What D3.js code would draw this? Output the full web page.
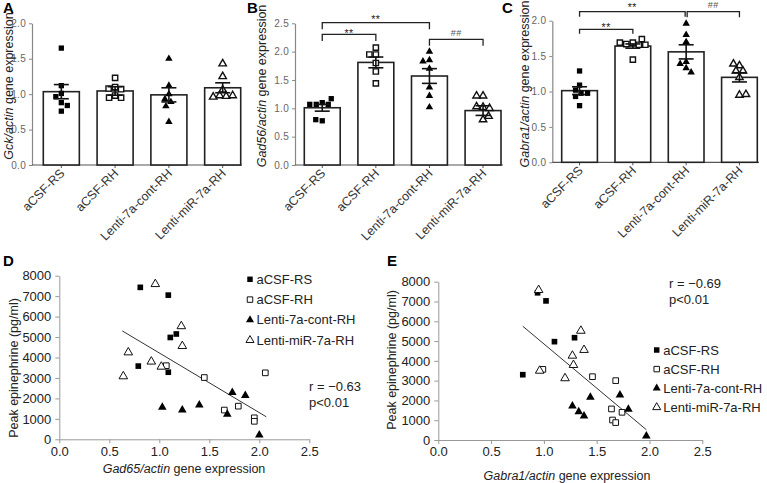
<!DOCTYPE html>
<html><head><meta charset="utf-8">
<script src="https://cdn.jsdelivr.net/npm/d3@7"></script>
<style>body{margin:0;background:#fff} svg{display:block;font-family:Arial,"Liberation Sans",sans-serif}</style>
</head><body><svg id="c" width="767" height="483"></svg>
<script>
// ---------- DATA ----------
const categories = ["aCSF-RS", "aCSF-RH", "Lenti-7a-cont-RH", "Lenti-miR-7a-RH"];
const barTicks2 = [0, 0.5, 1.0, 1.5, 2.0];
const barTicks25 = [0, 0.5, 1.0, 1.5, 2.0, 2.5];
const scatterXTicks = [0, 0.5, 1.0, 1.5, 2.0, 2.5];
const scatterYTicks = [0, 1000, 2000, 3000, 4000, 5000, 6000, 7000, 8000];

// Panel A: Gck/actin
const gckMeans = [1.035, 1.045, 0.99, 1.09];
const gckSem = [0.10, 0.06, 0.10, 0.07];
const gckRS = [1.65, 1.12, 1.01, 0.965, 0.88, 0.84, 0.76];
const gckRH = [1.23, 1.10, 1.08, 1.07, 0.98, 0.95, 0.95];
const gckCont = [1.50, 1.12, 1.00, 0.93, 0.89, 0.83, 0.61];
const gckMiR = [1.43, 1.25, 1.06, 0.98, 0.97, 0.96, 0.98];

// Panel B: Gad56/actin
const gadMeans = [1.01, 1.81, 1.57, 0.96];
const gadSem = [0.06, 0.095, 0.13, 0.085];
const gadRS = [1.10, 1.07, 1.07, 1.07, 1.17, 0.78, 0.80];
const gadRH = [2.07, 1.95, 1.95, 1.80, 1.65, 1.44];
const gadCont = [2.00, 1.85, 1.83, 1.70, 1.37, 1.22, 1.02];
const gadMiR = [1.22, 1.22, 1.02, 1.00, 1.03, 0.80, 0.86];

// Panel C: Gabra1/actin
const gabMeans = [1.012, 1.642, 1.56, 1.20];
const gabSem = [0.055, 0.03, 0.10, 0.065];
const gabRS = [1.29, 1.09, 1.02, 0.975, 0.93, 0.975, 0.80];
const gabRH = [1.69, 1.67, 1.66, 1.66, 1.69, 1.74, 1.45];
const gabCont = [1.96, 1.80, 1.70, 1.42, 1.39, 1.33, 1.27];
const gabMiR = [1.365, 1.39, 1.29, 1.29, 1.20, 0.95, 0.96];

// Panel D: Gad65 vs epinephrine
const dRSx = [0.81, 1.09, 1.11, 1.17, 0.79, 1.09];
const dRSy = [7430, 7050, 4980, 5150, 3580, 3280];
const dRHx = [1.07, 1.45, 2.06, 1.65, 1.79, 1.95, 1.95];
const dRHy = [3600, 3020, 3250, 1430, 1620, 1050, 880];
const dContx = [1.73, 1.86, 1.03, 1.23, 1.40, 1.68, 2.00];
const dConty = [2290, 2140, 1570, 1430, 1680, 1230, 210];
const dMiRx = [0.96, 1.22, 1.23, 0.69, 0.92, 1.02, 0.64];
const dMiRy = [7590, 5530, 4560, 4250, 3800, 3550, 3080];
const dLineX = [0.63, 2.07];
const dLineY = [5300, 1100];
const dStats = ["r = \u22120.63", "p<0.01"];

// Panel E: Gabra1 vs epinephrine
const eRSx = [0.94, 1.02, 1.10, 1.29, 0.80];
const eRSy = [7440, 7030, 4970, 5170, 3300];
const eRHx = [0.99, 1.46, 1.68, 1.64, 1.65, 1.68, 1.74];
const eRHy = [3570, 3200, 3000, 1570, 1010, 880, 1400];
const eContx = [1.72, 1.44, 1.27, 1.33, 1.38, 1.80, 1.97];
const eConty = [2270, 2160, 1720, 1430, 1210, 1550, 200];
const eMiRx = [0.95, 1.35, 1.38, 1.27, 1.28, 0.96, 1.20];
const eMiRy = [7580, 5520, 4550, 4260, 3790, 3500, 3120];
const eLineX = [0.80, 1.97];
const eLineY = [5750, 520];
const eStats = ["r = \u22120.69", "p<0.01"];

// ---------- DRAWING ----------
const svg = d3.select("#c");
const shapes = [["square", true], ["square", false], ["triangle", true], ["triangle", false]];

function symPath(shape, size) {
  return d3.symbol(shape === "square" ? d3.symbolSquare : d3.symbolTriangle, size)();
}
function drawMarker(g, shape, filled, cx, cy, sq, tri, sw) {
  const p = g.append("path")
    .attr("d", symPath(shape, shape === "square" ? sq : tri))
    .attr("transform", `translate(${cx},${cy})`);
  if (filled) p.attr("fill", "#000").attr("stroke", "none");
  else p.attr("fill", "#fff").attr("stroke", "#111").attr("stroke-width", sw);
}

// simple beeswarm layout (pixel space)
function swarm(pys, d) {
  const placed = [];
  let side = -1;
  return pys.map(py => {
    let off = 0;
    const ok = o => placed.every(p => Math.hypot(p.x - o, p.y - py) >= d);
    if (!ok(0)) {
      for (let s = 1; s < 40; s += 0.5) {
        if (ok(side * s)) { off = side * s; break; }
        if (ok(-side * s)) { off = -side * s; break; }
      }
      side = -side;
    }
    placed.push({x: off, y: py});
    return off;
  });
}

function barPanel(cfg) {
  const g = svg.append("g");
  const y = d3.scaleLinear().domain([0, cfg.ymax]).range([cfg.y0, cfg.yTop]);
  const x = d3.scaleBand().domain(categories).range(cfg.band).paddingInner(0.33).paddingOuter(0);
  const cx = c => x(c) + x.bandwidth() / 2;

  // y axis
  const ya = g.append("g").attr("transform", `translate(${cfg.ax},0)`)
    .call(d3.axisLeft(y).tickValues(cfg.ticks).tickFormat(d3.format(".1f")).tickSize(3).tickPadding(3).tickSizeOuter(0));
  ya.select(".domain").attr("stroke", "#888").attr("stroke-width", 1.2);
  ya.selectAll(".tick line").attr("stroke", "#888");
  ya.selectAll(".tick text").attr("fill", "#666").attr("font-size", 10)
    .attr("letter-spacing", "0.3px").attr("font-family", "Arial, Liberation Sans, sans-serif");

  // x axis
  g.append("line").attr("x1", cfg.ax).attr("x2", cfg.xEnd).attr("y1", cfg.y0).attr("y2", cfg.y0)
    .attr("stroke", "#555").attr("stroke-width", 1.2);
  categories.forEach(c => {
    g.append("line").attr("x1", cx(c)).attr("x2", cx(c)).attr("y1", cfg.y0).attr("y2", cfg.y0 + 3)
      .attr("stroke", "#555");
    g.append("text").text(c)
      .attr("transform", `translate(${cx(c) + 4},${cfg.y0 + 9}) rotate(-45)`)
      .attr("text-anchor", "end").attr("font-size", 12.5).attr("fill", "#333");
  });

  // bars
  categories.forEach((c, i) => {
    g.append("rect").attr("x", x(c)).attr("y", y(cfg.means[i]))
      .attr("width", x.bandwidth()).attr("height", cfg.y0 - y(cfg.means[i]))
      .attr("fill", "#fff").attr("stroke", "#222").attr("stroke-width", 1.6);
  });

  // points
  cfg.points.forEach((vals, i) => {
    const c = categories[i];
    const pys = vals.map(v => y(v));
    const offs = swarm(pys, 6.2);
    vals.forEach((v, j) => {
      drawMarker(g, shapes[i][0], shapes[i][1], cx(c) + offs[j], pys[j], 28, 24, 1.4);
    });
  });

  // error bars
  categories.forEach((c, i) => {
    const m = cfg.means[i], s = cfg.sem[i];
    const X = cx(c);
    g.append("line").attr("x1", X).attr("x2", X).attr("y1", y(m - s)).attr("y2", y(m + s))
      .attr("stroke", "#111").attr("stroke-width", 1.6);
    [m - s, m + s].forEach(v => {
      g.append("line").attr("x1", X - 7.5).attr("x2", X + 7.5).attr("y1", y(v)).attr("y2", y(v))
        .attr("stroke", "#111").attr("stroke-width", 1.6);
    });
  });

  // significance brackets
  cfg.brackets.forEach(b => {
    const x1 = cx(categories[b.from]) + (b.dx1 || 0), x2 = cx(categories[b.to]) + (b.dx2 || 0);
    g.append("path").attr("d", `M${x1},${b.y + b.h}V${b.y}H${x2}V${b.y + b.h}`)
      .attr("fill", "none").attr("stroke", "#222").attr("stroke-width", 1.3);
    g.append("text").text(b.label).attr("x", (x1 + x2) / 2).attr("y", b.ty)
      .attr("text-anchor", "middle").attr("font-size", b.label === "##" ? 9 : 10.5)
      .attr("fill", b.label === "##" ? "#555" : "#222").attr("letter-spacing", "0.5px");
  });

  // y title
  const t = g.append("text").attr("transform", `translate(${cfg.tx},${cfg.ty}) rotate(-90)`)
    .attr("text-anchor", "middle").attr("font-size", 12.5).attr("fill", "#222");
  t.append("tspan").attr("font-style", "italic").text(cfg.gene + "/actin");
  t.append("tspan").text(" gene expression");

  // panel letter
  svg.append("text").text(cfg.letter).attr("x", cfg.lx).attr("y", 12.5)
    .attr("font-size", 15).attr("font-weight", "bold").attr("fill", "#000");
}

barPanel({letter: "A", lx: 3, gene: "Gck", ymax: 2.0, ticks: barTicks2, y0: 165, yTop: 23.3,
  ax: 32, band: [43.3, 240.7], xEnd: 242, tx: 13, ty: 86,
  means: gckMeans, sem: gckSem, points: [gckRS, gckRH, gckCont, gckMiR], brackets: []});

barPanel({letter: "B", lx: 247, gene: "Gad56", ymax: 2.5, ticks: barTicks25, y0: 165, yTop: 23.3,
  ax: 295, band: [304.3, 501], xEnd: 503, tx: 266, ty: 86,
  means: gadMeans, sem: gadSem, points: [gadRS, gadRH, gadCont, gadMiR],
  brackets: [
    {from: 0, to: 2, y: 22.7, h: 6.6, label: "**", ty: 23},
    {from: 0, to: 1, y: 34.3, h: 6.7, label: "**", ty: 37},
    {from: 2, to: 3, y: 39.3, h: 6.4, label: "##", ty: 36}
  ]});

barPanel({letter: "C", lx: 502, gene: "Gabra1", ymax: 2.0, ticks: barTicks2, y0: 162.3, yTop: 20.7,
  ax: 552.3, band: [561.7, 757.3], xEnd: 759, tx: 529, ty: 84,
  means: gabMeans, sem: gabSem, points: [gabRS, gabRH, gabCont, gabMiR],
  brackets: [
    {from: 0, to: 2, y: 11.7, h: 5, label: "**", ty: 10.5, dx2: -1},
    {from: 0, to: 1, y: 29.3, h: 4.5, label: "**", ty: 30.5},
    {from: 2, to: 3, y: 11.7, h: 5.6, label: "##", ty: 7.5, dx1: 1}
  ]});

function scatterPanel(cfg) {
  const g = svg.append("g");
  const x = d3.scaleLinear().domain([0, 2.5]).range([cfg.x0, cfg.x1]);
  const y = d3.scaleLinear().domain([0, 8000]).range([cfg.y0, cfg.y1]);

  const xa = g.append("g").attr("transform", `translate(0,${cfg.y0})`)
    .call(d3.axisBottom(x).tickValues(scatterXTicks).tickFormat(d3.format(".1f")).tickSize(4).tickPadding(3).tickSizeOuter(0));
  const yaG = g.append("g").attr("transform", `translate(${cfg.x0},0)`)
    .call(d3.axisLeft(y).tickValues(scatterYTicks).tickFormat(d => d).tickSize(4).tickPadding(4).tickSizeOuter(0));
  [xa, yaG].forEach(a => {
    a.select(".domain").attr("stroke", "#999").attr("stroke-width", 1);
    a.selectAll(".tick line").attr("stroke", "#999");
    a.selectAll(".tick text").attr("fill", "#222").attr("font-size", 13)
      .attr("font-family", "Arial, Liberation Sans, sans-serif");
  });

  // regression line
  g.append("line").attr("x1", x(cfg.lineX[0])).attr("y1", y(cfg.lineY[0]))
    .attr("x2", x(cfg.lineX[1])).attr("y2", y(cfg.lineY[1]))
    .attr("stroke", "#333").attr("stroke-width", 1);

  // points
  cfg.series.forEach((s, i) => {
    s[0].forEach((xv, j) => {
      drawMarker(g, shapes[i][0], shapes[i][1], x(xv), y(s[1][j]), 32, 32, 1);
    });
  });

  // legend
  categories.forEach((c, i) => {
    const ly = cfg.legY + i * cfg.legDy;
    drawMarker(g, shapes[i][0], shapes[i][1], cfg.legX, ly, 30, 28, 1);
    g.append("text").text(c).attr("x", cfg.legX + 6.5).attr("y", ly + 4.5)
      .attr("font-size", 13).attr("fill", "#222");
  });

  // stats
  cfg.stats.forEach((s, i) => {
    g.append("text").text(s).attr("x", cfg.statX).attr("y", cfg.statY + i * 15.5)
      .attr("font-size", 13).attr("fill", "#222");
  });

  // titles
  const xt = g.append("text").attr("x", cfg.xtX).attr("y", cfg.xtY)
    .attr("text-anchor", "middle").attr("font-size", 12.5).attr("fill", "#222");
  xt.append("tspan").attr("font-style", "italic").text(cfg.gene + "/actin");
  xt.append("tspan").text(" gene expression");
  g.append("text").text("Peak epinephrine (pg/ml)")
    .attr("transform", `translate(${cfg.ytX},${cfg.ytY}) rotate(-90)`)
    .attr("text-anchor", "middle").attr("font-size", 12.5).attr("fill", "#222");

  svg.append("text").text(cfg.letter).attr("x", cfg.lx).attr("y", 266)
    .attr("font-size", 15).attr("font-weight", "bold").attr("fill", "#000");
}

scatterPanel({letter: "D", lx: 3, gene: "Gad65", x0: 59.3, x1: 309.3, y0: 439.3, y1: 275.7,
  lineX: dLineX, lineY: dLineY, stats: dStats, statX: 309, statY: 391,
  series: [[dRSx, dRSy], [dRHx, dRHy], [dContx, dConty], [dMiRx, dMiRy]],
  legX: 250, legY: 279.3, legDy: 20.3, xtX: 184, xtY: 473, ytX: 18, ytY: 368});

scatterPanel({letter: "E", lx: 387, gene: "Gabra1", x0: 438.3, x1: 702.3, y0: 440, y1: 281.7,
  lineX: eLineX, lineY: eLineY, stats: eStats, statX: 669, statY: 288,
  series: [[eRSx, eRSy], [eRHx, eRHy], [eContx, eConty], [eMiRx, eMiRy]],
  legX: 656.7, legY: 350, legDy: 19.1, xtX: 567, xtY: 479.5, ytX: 396, ytY: 360});
</script>
</body></html>
